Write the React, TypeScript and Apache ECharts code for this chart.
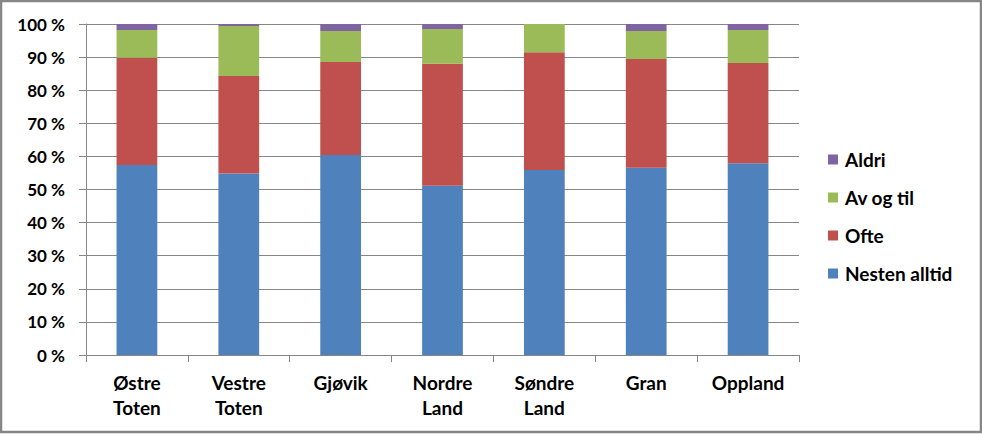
import React, { useEffect, useRef } from "react";
import * as echarts from "echarts";

const categories = ["Østre\nToten", "Vestre\nToten", "Gjøvik", "Nordre\nLand", "Søndre\nLand", "Gran", "Oppland"];
const nestenAlltid = [57.4, 54.8, 60.4, 51.1, 55.9, 56.6, 57.9];
const ofte = [32.4, 29.5, 28.1, 36.9, 35.6, 32.8, 30.3];
const avOgTil = [8.4, 15.1, 9.4, 10.5, 8.5, 8.5, 10.0];
const aldri = [1.8, 0.6, 2.1, 1.5, 0.0, 2.1, 1.8];
const yTicks = { min: 0, max: 100, interval: 10 };

const FONT = "Lato";

export default function App() {
  const ref = useRef<HTMLDivElement>(null);
  useEffect(() => {
    document.body.style.margin = "0";
    const chart = echarts.init(ref.current!, undefined, { renderer: "svg" });
    const mk = (name: string, data: number[], color: string) => ({
      name,
      type: "bar",
      stack: "total",
      data,
      barWidth: "40%",
      itemStyle: { color },
    });
    chart.setOption({
      animation: false,
      backgroundColor: "#ffffff",
      textStyle: { fontFamily: FONT },
      grid: { left: 86, right: 183, top: 24, bottom: 79, containLabel: false },
      legend: {
        orient: "vertical",
        left: 828,
        top: 150,
        padding: 0,
        itemWidth: 10,
        itemHeight: 10,
        itemGap: 19,
        icon: "rect",
        data: ["Aldri", "Av og til", "Ofte", "Nesten alltid"],
        textStyle: { fontFamily: FONT, fontWeight: "bold", fontSize: 19, color: "#000", padding: [0, 0, 0, 2] },
      },
      xAxis: {
        type: "category",
        data: categories,
        axisLine: { lineStyle: { color: "#868686", width: 1 } },
        axisTick: { show: true, length: 7, alignWithLabel: false, lineStyle: { color: "#868686" } },
        axisLabel: {
          interval: 0,
          margin: 15,
          lineHeight: 25,
          fontFamily: FONT,
          fontWeight: "bold",
          fontSize: 19,
          color: "#000",
        },
      },
      yAxis: {
        type: "value",
        min: yTicks.min,
        max: yTicks.max,
        interval: yTicks.interval,
        axisLine: { show: true, lineStyle: { color: "#868686", width: 1 } },
        axisTick: { show: true, length: 7, lineStyle: { color: "#868686" } },
        splitLine: { lineStyle: { color: "#868686", width: 1 } },
        axisLabel: {
          formatter: "{value} %",
          margin: 21,
          fontFamily: FONT,
          fontWeight: "bold",
          fontSize: 17,
          color: "#000",
        },
      },
      graphic: [
        {
          type: "rect",
          shape: { x: 1, y: 1, width: 980, height: 431 },
          style: { fill: "none", stroke: "#868686", lineWidth: 2.5 },
          silent: true,
        },
      ],
      series: [
        mk("Nesten alltid", nestenAlltid, "#4F81BD"),
        mk("Ofte", ofte, "#C0504D"),
        mk("Av og til", avOgTil, "#9BBB59"),
        mk("Aldri", aldri, "#8064A2"),
      ],
    });
    return () => chart.dispose();
  }, []);
  return <div ref={ref} style={{ width: 982, height: 434 }} />;
}
